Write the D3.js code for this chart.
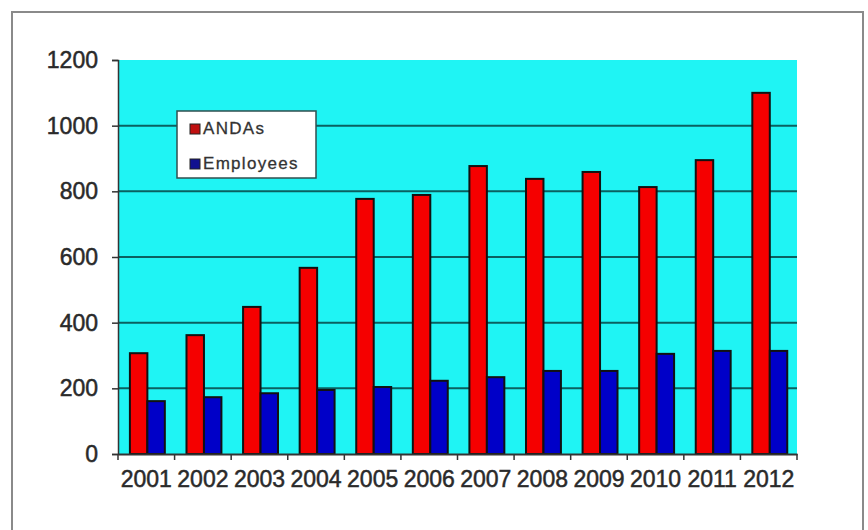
<!DOCTYPE html>
<html>
<head>
<meta charset="utf-8">
<script src="https://cdn.jsdelivr.net/npm/d3@7"></script>
<style>
  body { margin: 0; background: #fff; }
  text { font-family: "Liberation Sans", Arial, sans-serif; }
</style>
</head>
<body>
<svg id="chart" width="868" height="530"></svg>
<script>
// data
const years = ["2001", "2002", "2003", "2004", "2005", "2006",
               "2007", "2008", "2009", "2010", "2011", "2012"];
const series = ["ANDAs", "Employees"];
const andas = [307, 362, 448, 567, 777, 789, 877, 838, 859, 813, 895, 1100];
const employees = [161, 173, 185, 195, 204, 223, 234, 253, 253, 305, 314, 314];
const yTicks = [0, 200, 400, 600, 800, 1000, 1200];
const colors = ["#f50000", "#0000c8"];

const rows = years.map((y, i) => ({ year: y, vals: [andas[i], employees[i]] }));

const svg = d3.select("#chart");
const L = 118, R = 797, T = 60, B = 454;

// outer frame (runs off the bottom of the picture)
svg.append("rect")
    .attr("x", 12).attr("y", 12).attr("width", 851).attr("height", 530)
    .attr("fill", "#fff").attr("stroke", "#8a8a8a").attr("stroke-width", 2);

const x0 = d3.scaleBand().domain(years).range([L, R]);
const x1 = d3.scaleBand().domain(series).range([0, x0.bandwidth()])
    .paddingOuter(0.62).align(0.55);
const y = d3.scaleLinear().domain([0, 1200]).range([B, T]);

// plot area
svg.append("rect")
    .attr("x", L).attr("y", T).attr("width", R - L).attr("height", B - T)
    .attr("fill", "#1ff4f4");

// gridlines
svg.append("g").selectAll("line")
    .data(yTicks.filter(d => d > 0 && d < 1200))
    .join("line")
    .attr("x1", L).attr("x2", R)
    .attr("y1", d => y(d)).attr("y2", d => y(d))
    .attr("stroke", "#0a6060").attr("stroke-width", 2);

// bars
svg.append("g").selectAll("g")
    .data(rows)
    .join("g")
    .attr("transform", d => `translate(${x0(d.year)},0)`)
    .selectAll("rect")
    .data(d => d.vals.map((v, i) => ({ key: series[i], v: v, i: i })))
    .join("rect")
    .attr("x", d => x1(d.key))
    .attr("width", x1.bandwidth())
    .attr("y", d => y(d.v))
    .attr("height", d => B - y(d.v))
    .attr("fill", d => colors[d.i])
    .attr("stroke", "#111").attr("stroke-width", 2);

// y axis
const yAxis = svg.append("g")
    .attr("transform", `translate(${L},0)`)
    .call(d3.axisLeft(y).tickValues(yTicks).tickFormat(d3.format("d"))
        .tickSize(6).tickPadding(14));
yAxis.select(".domain").attr("stroke", "#333").attr("stroke-width", 1.5);
yAxis.selectAll(".tick line").attr("stroke", "#333").attr("stroke-width", 1.5);
yAxis.selectAll(".tick text")
    .attr("font-size", 23).attr("fill", "#2a2a2a")
    .attr("stroke", "#2a2a2a").attr("stroke-width", 0.5)
    .style("font-family", "'Liberation Sans', Arial, sans-serif");

// x axis
const xAxis = svg.append("g")
    .attr("transform", `translate(0,${B})`)
    .call(d3.axisBottom(x0).tickSize(0).tickPadding(17));
xAxis.select(".domain").attr("stroke", "#333").attr("stroke-width", 2);
xAxis.selectAll(".tick text")
    .attr("font-size", 23).attr("fill", "#2a2a2a")
    .attr("stroke", "#2a2a2a").attr("stroke-width", 0.5)
    .style("font-family", "'Liberation Sans', Arial, sans-serif");
// category boundary ticks
svg.append("g").selectAll("line")
    .data(years.concat(["end"]))
    .join("line")
    .attr("x1", d => d === "end" ? R : x0(d))
    .attr("x2", d => d === "end" ? R : x0(d))
    .attr("y1", B).attr("y2", B + 6)
    .attr("stroke", "#333").attr("stroke-width", 1.5);

// legend
const lg = svg.append("g").attr("transform", "translate(177,111)");
lg.append("rect")
    .attr("width", 139).attr("height", 67)
    .attr("fill", "#fff").attr("stroke", "#2f4f4f").attr("stroke-width", 1.5);
const items = lg.selectAll("g.item")
    .data(series)
    .join("g")
    .attr("class", "item")
    .attr("transform", (d, i) => `translate(13,${13 + i * 35})`);
items.append("rect")
    .attr("width", 10).attr("height", 10)
    .attr("fill", (d, i) => i === 0 ? "#c01010" : "#101090")
    .attr("stroke", "#222").attr("stroke-width", 1);
items.append("text")
    .attr("x", 13).attr("y", 10)
    .attr("font-size", 17)
    .attr("letter-spacing", 1.3)
    .attr("fill", "#333")
    .attr("stroke", "#333").attr("stroke-width", 0.3)
    .text(d => d);
</script>
</body>
</html>
